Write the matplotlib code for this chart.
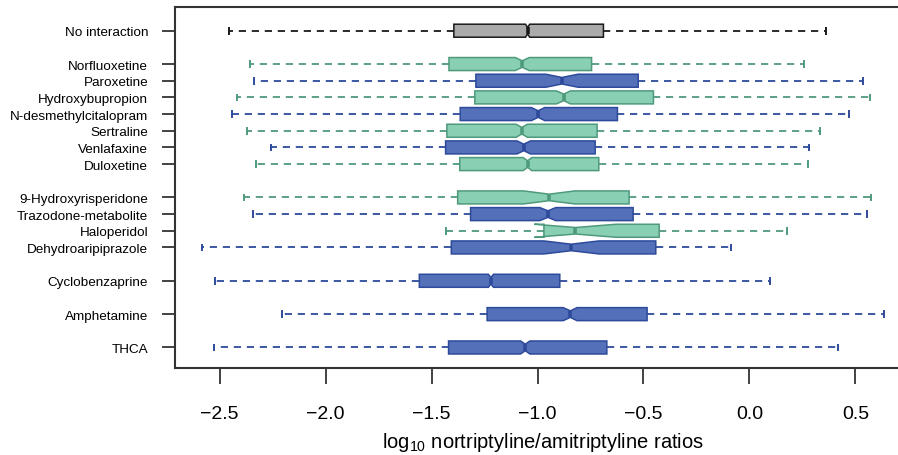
"""Notched boxplots of log10 nortriptyline/amitriptyline ratios by co-medication."""

import matplotlib.pyplot as plt

plt.rcParams["font.family"] = ["Liberation Sans", "DejaVu Sans"]
plt.rcParams["mathtext.default"] = "regular"

GREY = ("#aaaaaa", "#1a1a1a")
GREEN = ("#88cfb4", "#4f9a7c")
BLUE = ("#5470b9", "#2d4a9b")

# row layout: gaps separate the drug groups
labels = [
    "No interaction",
    "Norfluoxetine", "Paroxetine", "Hydroxybupropion", "N-desmethylcitalopram",
    "Sertraline", "Venlafaxine", "Duloxetine",
    "9-Hydroxyrisperidone", "Trazodone-metabolite", "Haloperidol", "Dehydroaripiprazole",
    "Cyclobenzaprine", "Amphetamine", "THCA",
]
positions = [0, 2, 3, 4, 5, 6, 7, 8, 10, 11, 12, 13, 15, 17, 19]
groups = ["grey", "green", "blue", "green", "blue", "green", "blue", "green",
          "green", "blue", "green", "blue", "blue", "blue", "blue"]

whislo = [-2.455, -2.357, -2.338, -2.417, -2.442, -2.371, -2.257, -2.327,
          -2.385, -2.343, -1.432, -2.584, -2.522, -2.206, -2.527]
q1 = [-1.395, -1.418, -1.291, -1.296, -1.365, -1.428, -1.434, -1.367,
      -1.377, -1.316, -0.970, -1.407, -1.558, -1.238, -1.420]
med = [-1.047, -1.072, -0.885, -0.876, -0.997, -1.074, -1.065, -1.047,
       -0.945, -0.951, -0.821, -0.841, -1.220, -0.845, -1.058]
q3 = [-0.689, -0.745, -0.525, -0.453, -0.623, -0.719, -0.728, -0.711,
      -0.568, -0.549, -0.426, -0.442, -0.895, -0.483, -0.673]
whishi = [0.363, 0.256, 0.534, 0.569, 0.470, 0.335, 0.280, 0.275,
          0.572, 0.555, 0.177, -0.085, 0.096, 0.634, 0.417]
ci_lo = [-1.057, -1.106, -0.961, -0.911, -1.029, -1.101, -1.097, -1.068,
         -1.066, -0.989, -1.015, -0.970, -1.232, -0.879, -1.080]
ci_hi = [-1.037, -1.039, -0.809, -0.845, -0.966, -1.048, -1.033, -1.027,
         -0.824, -0.914, -0.630, -0.710, -1.208, -0.814, -1.036]

PALETTE = {"grey": GREY, "green": GREEN, "blue": BLUE}


def build_stats():
    stats = []
    for i in range(len(labels)):
        stats.append({
            "whislo": whislo[i], "q1": q1[i], "med": med[i], "q3": q3[i],
            "whishi": whishi[i], "cilo": ci_lo[i], "cihi": ci_hi[i], "fliers": [],
        })
    return stats


def main() -> None:
    fig = plt.figure(figsize=(8.98, 4.56), dpi=100)
    ax = fig.add_axes([0.1949, 0.1901, 0.8185, 0.7917])

    for i, stat in enumerate(build_stats()):
        fill, edge = PALETTE[groups[i]]
        ax.bxp(
            [stat], positions=[positions[i]], widths=0.78, capwidths=0.34,
            orientation="horizontal", shownotches=True, patch_artist=True,
            showfliers=False, manage_ticks=False,
            boxprops=dict(facecolor=fill, edgecolor=edge, linewidth=1.1),
            whiskerprops=dict(color=edge, linewidth=1.3, linestyle=(0, (4.0, 3.2))),
            capprops=dict(color=edge, linewidth=1.4),
            medianprops=dict(color=edge, linewidth=2.6, solid_capstyle="butt"),
        )

    ax.set_xlim(-2.711, 0.758)
    ax.set_ylim(20.25, -1.404)
    ax.set_yticks(positions)
    ax.set_yticklabels(labels, fontsize=9.7)
    ax.set_xticks([-2.5, -2.0, -1.5, -1.0, -0.5, 0.0, 0.5])
    ax.set_xticklabels(["\u22122.5", "\u22122.0", "\u22121.5", "\u22121.0",
                        "\u22120.5", "0.0", "0.5"], fontsize=14)
    ax.tick_params(axis="y", length=9.4, width=1.2, pad=10, color="#222222")
    ax.tick_params(axis="x", length=11.5, width=1.2, pad=15, color="#222222")
    for side in ["top", "bottom", "left"]:
        ax.spines[side].set_color("#333333")
        ax.spines[side].set_linewidth(1.5)
    ax.spines["right"].set_visible(False)
    ax.set_xlabel("log$_{10}$ nortriptyline/amitriptyline ratios", fontsize=14.5, labelpad=6)

    fig.savefig("out.png", dpi=100)
    plt.close(fig)


if __name__ == "__main__":
    main()
